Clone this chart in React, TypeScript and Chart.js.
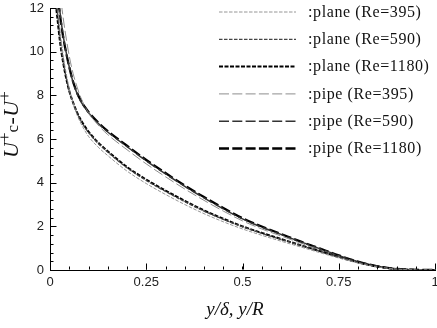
import React, { useEffect, useRef } from 'react';
import { Chart, registerables } from 'chart.js';
Chart.register(...registerables);

// y/δ or y/R
const X = [0.015, 0.02, 0.025, 0.03, 0.035, 0.04, 0.05, 0.06, 0.07, 0.08, 0.09, 0.1, 0.125, 0.15, 0.2, 0.25, 0.3, 0.35, 0.4, 0.45, 0.5, 0.55, 0.6, 0.65, 0.7, 0.75, 0.8, 0.85, 0.9, 0.95, 1.0];

const plane395 = [13.3, 12.15, 11.15, 10.4, 9.75, 9.2, 8.3, 7.65, 7.12, 6.72, 6.4, 6.12, 5.63, 5.24, 4.53, 3.96, 3.46, 3.0, 2.58, 2.21, 1.88, 1.59, 1.32, 1.06, 0.8, 0.55, 0.32, 0.14, 0.04, 0.007, 0];
const plane590 = [12.7, 11.7, 10.8, 10.1, 9.5, 9.0, 8.2, 7.65, 7.2, 6.85, 6.55, 6.3, 5.8, 5.4, 4.68, 4.1, 3.6, 3.13, 2.7, 2.32, 1.98, 1.68, 1.4, 1.13, 0.86, 0.59, 0.35, 0.16, 0.045, 0.008, 0];
const plane1180 = [12.2, 11.4, 10.6, 9.95, 9.42, 8.95, 8.2, 7.67, 7.23, 6.88, 6.59, 6.34, 5.84, 5.44, 4.72, 4.14, 3.64, 3.17, 2.73, 2.35, 2.0, 1.7, 1.42, 1.14, 0.87, 0.6, 0.35, 0.16, 0.045, 0.008, 0];
const pipe395 = [15.2, 14.0, 13.0, 12.15, 11.45, 10.85, 9.8, 9.0, 8.4, 7.9, 7.52, 7.2, 6.64, 6.2, 5.51, 4.86, 4.27, 3.71, 3.19, 2.7, 2.25, 1.88, 1.56, 1.24, 0.93, 0.63, 0.36, 0.16, 0.045, 0.009, 0];
const pipe590 = [13.8, 12.8, 11.95, 11.25, 10.65, 10.15, 9.3, 8.6, 8.1, 7.72, 7.44, 7.2, 6.72, 6.32, 5.65, 5.0, 4.4, 3.83, 3.3, 2.8, 2.34, 1.96, 1.63, 1.3, 0.98, 0.66, 0.38, 0.17, 0.05, 0.01, 0];
const pipe1180 = [13.5, 12.55, 11.8, 11.15, 10.6, 10.12, 9.3, 8.62, 8.13, 7.76, 7.48, 7.24, 6.76, 6.36, 5.69, 5.04, 4.44, 3.87, 3.34, 2.84, 2.37, 1.99, 1.65, 1.31, 0.99, 0.67, 0.38, 0.17, 0.05, 0.01, 0];

const LABELS = [':plane (Re=395)', ':plane (Re=590)', ':plane (Re=1180)', ':pipe (Re=395)', ':pipe (Re=590)', ':pipe (Re=1180)'];
const SERIES = [plane395, plane590, plane1180, pipe395, pipe590, pipe1180];

const X_TICKS = [0, 0.25, 0.5, 0.75, 1];
const X_TICK_TEXT = ['0', '0.25', '0.5', '0.75', '1'];
const Y_MIN = 0, Y_MAX = 12, Y_STEP = 2;
const X_MINOR = 0.05, Y_MINOR = 0.4;

const STYLES = [
  { color: '#8a8a8a', width: 0.9, dash: [3.5, 1.5] },
  { color: '#444444', width: 1.3, dash: [3.5, 1.5] },
  { color: '#000000', width: 2.0, dash: [4, 1.5] },
  { color: '#808080', width: 0.9, dash: [10, 3.3] },
  { color: '#333333', width: 1.5, dash: [10, 3.3] },
  { color: '#000000', width: 2.3, dash: [10, 3.3] },
];

const decor = {
  id: 'decor',
  afterDraw(chart: any) {
    const { ctx, chartArea } = chart;
    const xs = chart.scales.x;
    const ys = chart.scales.y;
    ctx.save();
    ctx.strokeStyle = '#000';
    ctx.lineWidth = 1;
    ctx.setLineDash([]);
    const L = Math.round(chartArea.left) + 0.5;
    const B = Math.round(chartArea.bottom) - 0.5;
    ctx.beginPath();
    for (let v = Y_MIN; v <= Y_MAX + 1e-6; v += Y_MINOR) {
      const p = Math.round(ys.getPixelForValue(v)) + 0.5;
      ctx.moveTo(L, p); ctx.lineTo(L + 3, p);
    }
    for (const t of ys.ticks) {
      const p = Math.round(ys.getPixelForValue(t.value)) + 0.5;
      ctx.moveTo(L, p); ctx.lineTo(L + 6, p);
    }
    for (let v = 0; v <= 1 + 1e-6; v += X_MINOR) {
      const p = Math.round(xs.getPixelForValue(v)) + 0.5;
      ctx.moveTo(p, B); ctx.lineTo(p, B - 3);
    }
    for (const t of xs.ticks) {
      const p = Math.round(xs.getPixelForValue(t.value)) + 0.5;
      ctx.moveTo(p, B); ctx.lineTo(p, B - 6);
    }
    ctx.stroke();

    // legend
    const lx0 = 219, lx1 = 296, ly0 = 12, dy = 27.3;
    chart.data.datasets.forEach((ds: any, i: number) => {
      const y = ly0 + i * dy;
      ctx.save();
      ctx.strokeStyle = ds.borderColor;
      ctx.lineWidth = ds.borderWidth;
      ctx.setLineDash(ds.borderDash);
      ctx.beginPath();
      ctx.moveTo(lx0, y); ctx.lineTo(lx1, y);
      ctx.stroke();
      ctx.restore();
      ctx.save();
      ctx.fillStyle = '#111';
      ctx.font = '16px "Liberation Serif"';
      (ctx as any).letterSpacing = '0.6px';
      ctx.textBaseline = 'middle';
      ctx.textAlign = 'left';
      ctx.fillText(ds.label, 308, y + 0.5);
      ctx.restore();
    });

    // x title
    ctx.fillStyle = '#111';
    ctx.font = 'italic 19px "Liberation Serif"';
    ctx.textAlign = 'center';
    ctx.textBaseline = 'alphabetic';
    ctx.fillText('y/δ, y/R', 235, 315);

    // y title (rotated)
    ctx.translate(18, 158);
    ctx.rotate(-Math.PI / 2);
    ctx.textAlign = 'left';
    let x = 0;
    const seg = (t: string, font: string, dy: number, gap: number) => {
      ctx.font = font;
      ctx.fillText(t, x, dy);
      x += ctx.measureText(t).width + gap;
    };
    seg('U', 'italic 22px "Liberation Serif"', 0, 0);
    seg('+', '17px "Liberation Serif"', -8, 0);
    seg('c', '17px "Liberation Serif"', 0, 0.5);
    seg('-', '22px "Liberation Serif"', 0, 0.5);
    seg('U', 'italic 22px "Liberation Serif"', 0, 0);
    seg('+', '17px "Liberation Serif"', -8, 0);
    ctx.restore();
  },
};

export default function App() {
  const ref = useRef<HTMLCanvasElement | null>(null);
  useEffect(() => {
    document.body.style.margin = '0';
    const canvas = ref.current!;
    const chart = new Chart(canvas, {
      type: 'line',
      data: {
        datasets: SERIES.map((s, i) => ({
          label: LABELS[i],
          data: X.map((x, j) => ({ x, y: s[j] })),
          borderColor: STYLES[i].color,
          borderWidth: STYLES[i].width,
          borderDash: STYLES[i].dash,
          pointRadius: 0,
          fill: false,
          cubicInterpolationMode: 'monotone',
        })),
      },
      options: {
        animation: false,
        responsive: false,
        devicePixelRatio: 1,
        layout: { padding: { left: 0, right: 2, top: 8, bottom: 0 } },
        plugins: { legend: { display: false }, tooltip: { enabled: false } },
        scales: {
          x: {
            type: 'linear',
            min: 0,
            max: 1,
            afterBuildTicks: (s: any) => { s.ticks = X_TICKS.map((v) => ({ value: v })); },
            afterFit: (s: any) => { s.height = 58; s.paddingLeft = 0; s.paddingRight = 0; },
            grid: { display: true, color: 'rgba(0,0,0,0)', drawTicks: false },
            border: { display: true, color: '#000', width: 1 },
            ticks: {
              padding: 5,
              color: '#222',
              font: { family: 'Liberation Sans', size: 13 },
              maxRotation: 0,
              autoSkip: false,
              callback: (v: any) => X_TICK_TEXT[X_TICKS.indexOf(Number(v))] ?? '',
            },
          },
          y: {
            type: 'linear',
            min: Y_MIN,
            max: Y_MAX,
            afterFit: (s: any) => { s.width = 50; s.paddingTop = 0; s.paddingBottom = 0; },
            grid: { display: true, color: 'rgba(0,0,0,0)', drawTicks: false },
            border: { display: true, color: '#000', width: 1 },
            ticks: {
              stepSize: Y_STEP,
              padding: 6,
              color: '#222',
              font: { family: 'Liberation Sans', size: 13 },
            },
          },
        },
      },
      plugins: [decor],
    } as any);
    return () => chart.destroy();
  }, []);
  return (
    <div style={{ position: 'absolute', left: 0, top: 0 }}>
      <canvas ref={ref} width={437} height={328} style={{ display: 'block', width: 437, height: 328 }} />
    </div>
  );
}
